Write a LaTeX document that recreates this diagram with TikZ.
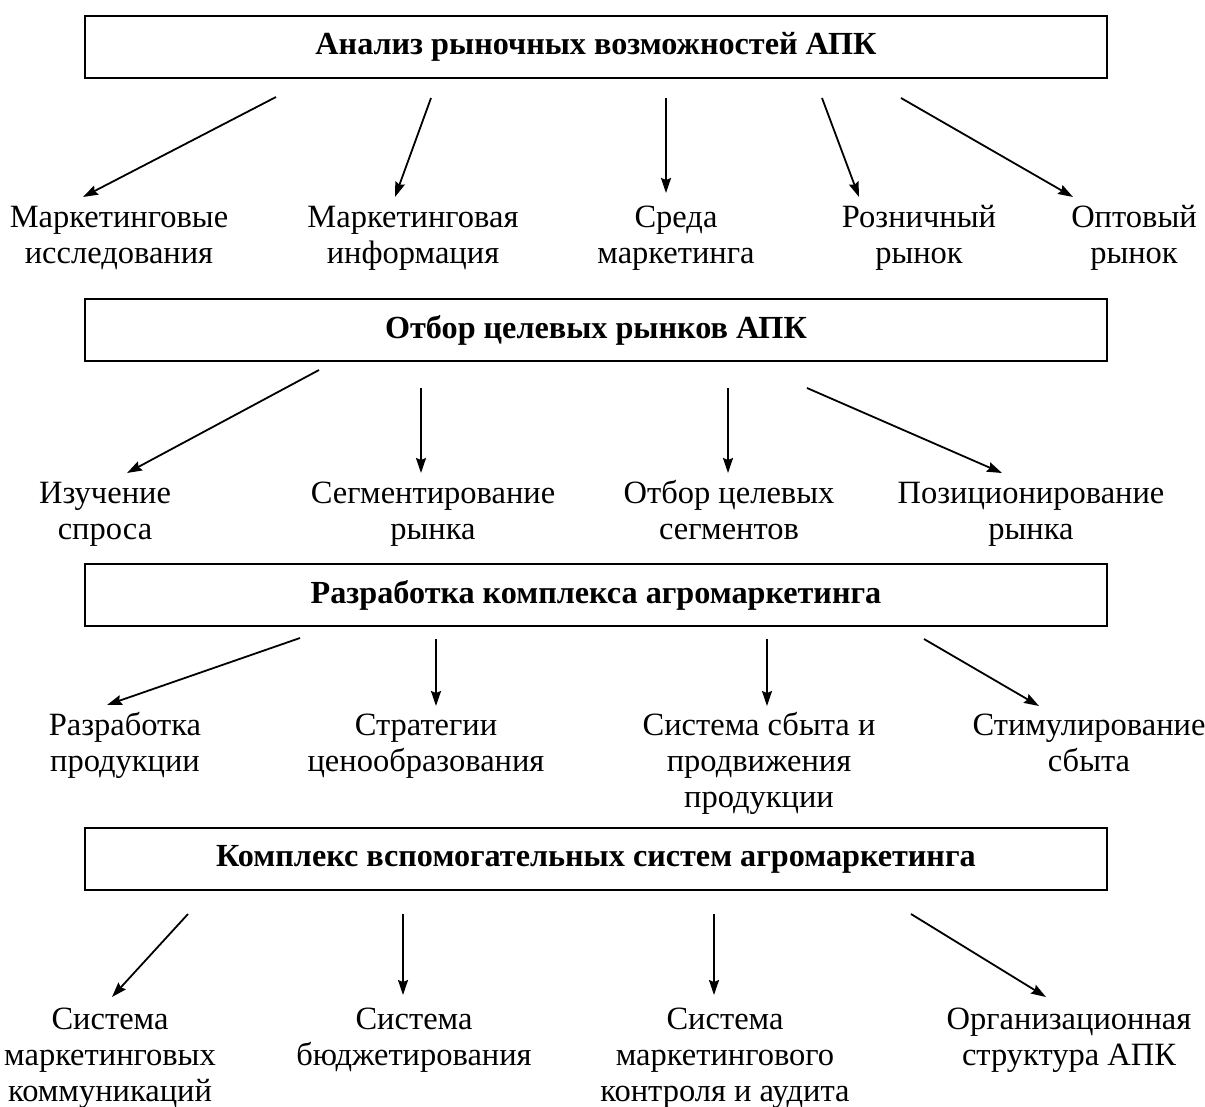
\documentclass[tikz,border=0pt]{standalone}
\usepackage{fontspec}
\setmainfont{Liberation Serif}
\usetikzlibrary{arrows.meta}
\newcommand{\mlines}[1]{\begin{tabular}[t]{@{}c@{}}#1\end{tabular}}
\begin{document}
\begin{tikzpicture}[x=1pt,y=-1pt,
  hbox/.style={draw,line width=1.5pt,minimum width=1022pt,minimum height=62pt,inner sep=0pt,font=\fontsize{32.2}{36}\selectfont\bfseries},
  lbl/.style={anchor=base,inner sep=0pt,font=\fontsize{32.5}{36}\selectfont},
  arr/.style={line width=1.8pt,-{Stealth[length=15pt,width=10pt,inset=2pt]}}]
\useasboundingbox[fill=white] (0,0) rectangle (1205,1106);

% boxes
\node[hbox] (b1) at (596,47) {Анализ рыночных возможностей АПК};
\node[hbox] (b2) at (596,330) {Отбор целевых рынков АПК};
\node[hbox] (b3) at (596,595) {Разработка комплекса агромаркетинга};
\node[hbox] (b4) at (596,859) {Комплекс вспомогательных систем агромаркетинга};

% row 1 labels
\node[lbl] (l11) at (119,227) {\mlines{Маркетинговые\\исследования}};
\node[lbl] (l12) at (413,227) {\mlines{Маркетинговая\\информация}};
\node[lbl] (l13) at (676,227) {\mlines{Среда\\маркетинга}};
\node[lbl] (l14) at (919,227) {\mlines{Розничный\\рынок}};
\node[lbl] (l15) at (1134,227) {\mlines{Оптовый\\рынок}};
% row 2 labels
\node[lbl] (l21) at (105,503) {\mlines{Изучение\\спроса}};
\node[lbl] (l22) at (433,503) {\mlines{Сегментирование\\рынка}};
\node[lbl] (l23) at (729,503) {\mlines{Отбор целевых\\сегментов}};
\node[lbl] (l24) at (1031,503) {\mlines{Позиционирование\\рынка}};
% row 3 labels
\node[lbl] (l31) at (125,735) {\mlines{Разработка\\продукции}};
\node[lbl] (l32) at (426,735) {\mlines{Стратегии\\ценообразования}};
\node[lbl] (l33) at (759,735) {\mlines{Система сбыта и\\продвижения\\продукции}};
\node[lbl] (l34) at (1089,735) {\mlines{Стимулирование\\сбыта}};
% row 4 labels
\node[lbl] (l41) at (110,1029) {\mlines{Система\\маркетинговых\\коммуникаций}};
\node[lbl] (l42) at (414,1029) {\mlines{Система\\бюджетирования}};
\node[lbl] (l43) at (725,1029) {\mlines{Система\\маркетингового\\контроля и аудита}};
\node[lbl] (l44) at (1069,1029) {\mlines{Организационная\\структура АПК}};

% arrow end points
\coordinate (s11) at (276,97);  \coordinate (e11) at (83,197);
\coordinate (s12) at (431,98);  \coordinate (e12) at (395,197);
\coordinate (s13) at (666,98);  \coordinate (e13) at (666,193);
\coordinate (s14) at (822,98);  \coordinate (e14) at (859,197);
\coordinate (s15) at (901,98);  \coordinate (e15) at (1073,197);

\coordinate (s21) at (319,370); \coordinate (e21) at (127,473);
\coordinate (s22) at (421,388); \coordinate (e22) at (421,473);
\coordinate (s23) at (728,388); \coordinate (e23) at (728,473);
\coordinate (s24) at (807,388); \coordinate (e24) at (1002,473);

\coordinate (s31) at (300,638); \coordinate (e31) at (107,705);
\coordinate (s32) at (436,639); \coordinate (e32) at (436,706);
\coordinate (s33) at (767,639); \coordinate (e33) at (767,706);
\coordinate (s34) at (924,639); \coordinate (e34) at (1039,706);

\coordinate (s41) at (188,914); \coordinate (e41) at (112,997);
\coordinate (s42) at (403,914); \coordinate (e42) at (403,995);
\coordinate (s43) at (714,914); \coordinate (e43) at (714,995);
\coordinate (s44) at (911,914); \coordinate (e44) at (1046,997);

\foreach \r/\n in {1/5,2/4,3/4,4/4}{
  \foreach \i in {1,...,\n}{
    \draw[arr] (s\r\i) -- (e\r\i);
  }
}
\end{tikzpicture}
\end{document}
